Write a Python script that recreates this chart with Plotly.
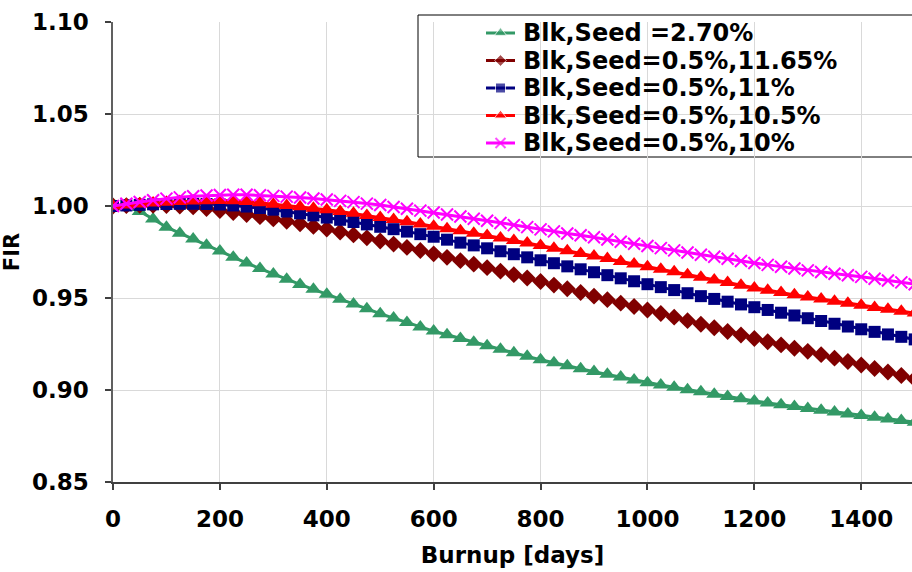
import plotly.graph_objects as go

burnup = [0, 25, 50, 75, 100, 125, 150, 175, 200, 225, 250, 275, 300, 325, 350, 375, 400,
          425, 450, 475, 500, 525, 550, 575, 600, 625, 650, 675, 700, 725, 750, 775, 800,
          825, 850, 875, 900, 925, 950, 975, 1000, 1025, 1050, 1075, 1100, 1125, 1150, 1175,
          1200, 1225, 1250, 1275, 1300, 1325, 1350, 1375, 1400, 1425, 1450, 1475, 1500]

fir_seed_270 = [1.0000, 0.9995, 0.9970, 0.9930, 0.9885, 0.9852, 0.9820, 0.9787, 0.9755, 0.9722,
                0.9690, 0.9660, 0.9630, 0.9602, 0.9574, 0.9547, 0.9520, 0.9493, 0.9467, 0.9441,
                0.9415, 0.9391, 0.9367, 0.9343, 0.9320, 0.9300, 0.9280, 0.9260, 0.9240, 0.9221,
                0.9202, 0.9183, 0.9165, 0.9148, 0.9132, 0.9116, 0.9100, 0.9085, 0.9070, 0.9055,
                0.9040, 0.9027, 0.9015, 0.9002, 0.8990, 0.8977, 0.8965, 0.8952, 0.8940, 0.8930,
                0.8920, 0.8910, 0.8900, 0.8890, 0.8880, 0.8870, 0.8862, 0.8852, 0.8843, 0.8834,
                0.8825]

fir_seed_1165 = [1.0000, 1.0002, 1.0004, 1.0004, 1.0003, 1.0000, 0.9995, 0.9986, 0.9975, 0.9965,
                 0.9954, 0.9942, 0.9930, 0.9917, 0.9903, 0.9889, 0.9875, 0.9859, 0.9843, 0.9827,
                 0.9810, 0.9793, 0.9775, 0.9758, 0.9740, 0.9721, 0.9703, 0.9684, 0.9665, 0.9646,
                 0.9627, 0.9609, 0.9590, 0.9570, 0.9550, 0.9530, 0.9510, 0.9491, 0.9472, 0.9454,
                 0.9435, 0.9416, 0.9396, 0.9377, 0.9357, 0.9338, 0.9318, 0.9299, 0.9280, 0.9262,
                 0.9245, 0.9227, 0.9210, 0.9192, 0.9173, 0.9155, 0.9136, 0.9117, 0.9098, 0.9079,
                 0.9060]

fir_seed_11 = [1.0000, 1.0003, 1.0006, 1.0009, 1.0011, 1.0012, 1.0012, 1.0011, 1.0008, 1.0003,
               0.9997, 0.9989, 0.9980, 0.9970, 0.9960, 0.9949, 0.9937, 0.9925, 0.9913, 0.9900,
               0.9887, 0.9874, 0.9861, 0.9847, 0.9833, 0.9817, 0.9801, 0.9786, 0.9770, 0.9754,
               0.9738, 0.9721, 0.9705, 0.9689, 0.9672, 0.9656, 0.9640, 0.9624, 0.9607, 0.9591,
               0.9575, 0.9559, 0.9543, 0.9526, 0.9510, 0.9495, 0.9480, 0.9465, 0.9450, 0.9435,
               0.9420, 0.9405, 0.9390, 0.9375, 0.9360, 0.9345, 0.9330, 0.9316, 0.9302, 0.9289,
               0.9275]

fir_seed_105 = [1.0000, 1.0006, 1.0011, 1.0016, 1.0020, 1.0024, 1.0027, 1.0029, 1.0030, 1.0028,
                1.0024, 1.0018, 1.0010, 1.0003, 0.9996, 0.9988, 0.9980, 0.9970, 0.9960, 0.9949,
                0.9938, 0.9926, 0.9914, 0.9902, 0.9890, 0.9877, 0.9865, 0.9852, 0.9840, 0.9826,
                0.9812, 0.9799, 0.9785, 0.9771, 0.9757, 0.9742, 0.9728, 0.9714, 0.9699, 0.9685,
                0.9670, 0.9656, 0.9642, 0.9627, 0.9613, 0.9598, 0.9584, 0.9569, 0.9555, 0.9542,
                0.9530, 0.9517, 0.9505, 0.9494, 0.9483, 0.9471, 0.9460, 0.9449, 0.9439, 0.9428,
                0.9418]

fir_seed_10 = [1.0000, 1.0012, 1.0022, 1.0031, 1.0040, 1.0047, 1.0053, 1.0057, 1.0060, 1.0061,
               1.0061, 1.0058, 1.0055, 1.0051, 1.0046, 1.0041, 1.0035, 1.0028, 1.0021, 1.0013,
               1.0005, 0.9995, 0.9985, 0.9975, 0.9965, 0.9954, 0.9943, 0.9931, 0.9920, 0.9908,
               0.9896, 0.9885, 0.9873, 0.9862, 0.9851, 0.9841, 0.9830, 0.9818, 0.9806, 0.9795,
               0.9783, 0.9771, 0.9759, 0.9747, 0.9735, 0.9724, 0.9713, 0.9701, 0.9690, 0.9680,
               0.9670, 0.9660, 0.9650, 0.9641, 0.9632, 0.9624, 0.9615, 0.9605, 0.9595, 0.9585,
               0.9575]

series_names = ["Blk,Seed =2.70%", "Blk,Seed=0.5%,11.65%", "Blk,Seed=0.5%,11%",
                "Blk,Seed=0.5%,10.5%", "Blk,Seed=0.5%,10%"]
series_values = [fir_seed_270, fir_seed_1165, fir_seed_11, fir_seed_105, fir_seed_10]
series_colors = ["#339966", "#800000", "#000080", "#FF0000", "#FF00FF"]
series_symbols = ["triangle-up", "diamond", "square", "triangle-up", "x-thin-open"]
series_sizes = [14, 13, 12, 14, 12]
legend_sizes = [11, 9, 10, 11, 10]

x_ticks = [0, 200, 400, 600, 800, 1000, 1200, 1400]
y_ticks = [0.85, 0.90, 0.95, 1.00, 1.05, 1.10]

# ---- layout geometry (pixels) ----
W, H = 912, 572
ML, MR, MT, MB = 113, 0, 22, 90
pw, ph = W - ML - MR, H - MT - MB

def px_x(p):
    return (p - ML) / pw

def px_y(p):
    return (H - MB - p) / ph

LEG_BOX = (418, 930, 15, 157)          # left, right, top, bottom
LEG_ROWS = [33, 60.5, 88, 115.5, 143]  # row centres
LEG_LINE = (486, 515)
LEG_TEXT_X = 521

fig = go.Figure()
for name, vals, col, sym, sz in zip(series_names, series_values, series_colors, series_symbols, series_sizes):
    marker = dict(symbol=sym, size=sz, color=col)
    if sym == "x-thin-open":
        marker["line"] = dict(color=col, width=2)
    fig.add_trace(go.Scatter(x=burnup, y=vals, name=name, mode="lines+markers",
                             line=dict(color=col, width=3), marker=marker, showlegend=False))

# legend samples on a pixel-space overlay axis
for i, (name, col, sym, sz) in enumerate(zip(series_names, series_colors, series_symbols, legend_sizes)):
    marker = dict(symbol=sym, size=[0, sz, 0], color=col)
    if sym == "x-thin-open":
        marker["line"] = dict(color=col, width=2)
    yy = LEG_ROWS[i]
    fig.add_trace(go.Scatter(x=[LEG_LINE[0], (LEG_LINE[0] + LEG_LINE[1]) / 2, LEG_LINE[1]],
                             y=[yy, yy, yy], xaxis="x2", yaxis="y2", mode="lines+markers",
                             line=dict(color=col, width=3), marker=marker,
                             showlegend=False, hoverinfo="skip", cliponaxis=False))
    fig.add_annotation(xref="paper", yref="paper", x=px_x(LEG_TEXT_X), y=px_y(yy),
                       xanchor="left", yanchor="middle", showarrow=False, text=name,
                       font=dict(family="DejaVu Sans", size=24, color="black", weight="bold"))

fig.add_shape(type="rect", xref="paper", yref="paper",
              x0=px_x(LEG_BOX[0]), x1=px_x(LEG_BOX[1]), y0=px_y(LEG_BOX[3]), y1=px_y(LEG_BOX[2]),
              line=dict(color="black", width=1), fillcolor="white", layer="between")

font_bold = dict(family="DejaVu Sans", size=23, color="black", weight="bold")

fig.update_layout(
    width=W, height=H,
    margin=dict(l=ML, r=MR, t=MT, b=MB, pad=0),
    paper_bgcolor="white", plot_bgcolor="white",
    showlegend=False,
    xaxis=dict(range=[0, 1495], tickvals=x_ticks, ticktext=[str(v) for v in x_ticks],
               showgrid=True, gridcolor="#d9d9d9", gridwidth=1,
               showline=True, linecolor="#404040", linewidth=1.5,
               ticks="outside", ticklen=6, tickcolor="#404040", tickwidth=1.5,
               tickfont=font_bold, zeroline=False, ticklabelstandoff=10,
               title=dict(text="Burnup [days]", font=font_bold, standoff=16)),
    yaxis=dict(range=[0.85, 1.10], tickvals=y_ticks, ticktext=["%.2f" % v for v in y_ticks],
               showgrid=True, gridcolor="#d9d9d9", gridwidth=1,
               showline=True, linecolor="#606060", linewidth=1.5,
               ticks="outside", ticklen=6, tickcolor="#404040", tickwidth=1.5,
               tickfont=font_bold, zeroline=False, ticklabelstandoff=12,
               title=dict(text="FIR", font=dict(family="DejaVu Sans", size=21, color="black", weight="bold"),
                          standoff=14)),
    xaxis2=dict(overlaying="x", range=[ML, W - MR], visible=False, fixedrange=True),
    yaxis2=dict(overlaying="y", range=[H - MB, MT], visible=False, fixedrange=True),
)

fig.write_html("out.html")
